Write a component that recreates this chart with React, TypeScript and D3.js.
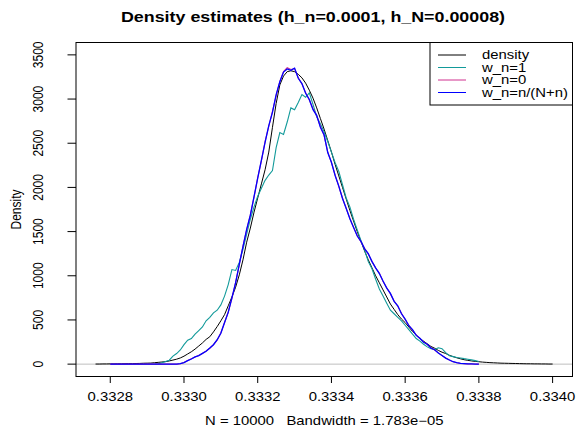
import React from 'react';
import * as d3 from 'd3';

const TITLE = 'Density estimates (h_n=0.0001, h_N=0.00008)';
const X_LABEL = 'N = 10000   Bandwidth = 1.783e\u221205';
const Y_LABEL = 'Density';
const X_TICKS = [0.3328, 0.333, 0.3332, 0.3334, 0.3336, 0.3338, 0.334];
const Y_TICKS = [0, 500, 1000, 1500, 2000, 2500, 3000, 3500];
const SERIES_NAMES = ['density', 'w_n=1', 'w_n=0', 'w_n=n/(N+n)'];
const SERIES_COLORS = ['#000000', '#129a9a', '#d0308f', '#0000ff'];
const SERIES_WIDTHS = [1, 1.1, 1.1, 1.3];

const GRID_STEP = 0.00001;
const X_DOMAIN = [0.332707, 0.334054];
const Y_DOMAIN = [-140, 3640];

const DENSITY_X0 = 0.33276;
const DENSITY_Y = [
  1, 1, 2, 2, 3, 3, 4, 4, 5, 6, 6, 7, 8, 10, 11, 12, 16, 20, 24, 28,
  36, 46, 56, 70, 90, 115, 140, 170, 205, 240, 280, 310, 365, 425, 490, 560, 660, 760, 870, 1010,
  1180, 1380, 1540, 1720, 1880, 2040, 2200, 2400, 2680, 2950, 3160, 3260, 3310, 3320, 3310, 3280, 3240, 3180, 3100, 3010,
  2900, 2780, 2660, 2530, 2400, 2260, 2130, 2000, 1870, 1740, 1620, 1500, 1390, 1280, 1180, 1090, 1000, 920, 840, 760,
  680, 620, 560, 510, 470, 420, 370, 330, 290, 260, 230, 200, 180, 155, 135, 120, 100, 85, 72, 60,
  50, 43, 36, 31, 27, 23, 20, 17, 15, 13, 11, 10, 9, 8, 7, 6, 5, 4, 4, 3,
  3, 2, 2, 1, 1,
];

const WN1_X0 = 0.33292;
const WN1_Y = [
  0, 5, 15, 30, 45, 90, 120, 160, 220, 270, 290, 340, 380, 420, 490, 530, 580, 610, 670, 770,
  900, 1070, 1060, 1150, 1300, 1470, 1640, 1780, 1900, 1990, 2080, 2140, 2190, 2450, 2620, 2600, 2740, 2900, 2880, 2960,
  3050, 3020, 3070, 2940, 2800, 2720, 2630, 2520, 2400, 2280, 2180, 2030, 1880, 1780, 1640, 1520, 1400, 1290, 1160, 1080,
  960, 850, 770, 690, 610, 570, 530, 490, 440, 390, 340, 290, 260, 225, 195, 175, 165, 185, 175, 130,
  95, 85, 75, 70, 62, 55, 48, 40, 30,
];

const WN0_X0 = 0.3328;
const WN0_Y = [
  0, 0, 0, 0, 0, 0, 0, 0, 0, 0, 0, 0, 0, 0, 0, 0, 0, 0, 0, 5,
  18, 40, 62, 80, 98, 120, 148, 180, 222, 272, 355, 468, 590, 745, 925, 1125, 1335, 1520, 1690, 1890,
  2110, 2300, 2520, 2690, 2860, 3040, 3200, 3310, 3355, 3335, 3345, 3240, 3170, 3070, 2990, 2890, 2810, 2690, 2590, 2400,
  2280, 2140, 2010, 1880, 1760, 1650, 1545, 1455, 1385, 1310, 1245, 1165, 1085, 1030, 935, 865, 795, 715, 655, 575,
  505, 440, 385, 330, 288, 252, 222, 186, 160, 128, 96, 70, 46, 28, 16, 10, 6, 3, 2, 1,
  0,
];

const WNN_X0 = 0.3328;
const WNN_Y = [
  0, 0, 0, 0, 0, 0, 0, 0, 0, 0, 0, 0, 0, 0, 0, 0, 0, 0, 0, 5,
  18, 40, 58, 82, 96, 122, 146, 182, 220, 276, 350, 472, 586, 750, 920, 1130, 1330, 1525, 1685, 1895,
  2105, 2310, 2510, 2700, 2850, 3050, 3195, 3305, 3340, 3325, 3350, 3235, 3175, 3065, 2995, 2880, 2815, 2680, 2595, 2395,
  2285, 2135, 2015, 1875, 1765, 1645, 1550, 1450, 1390, 1305, 1250, 1160, 1090, 1025, 940, 860, 800, 710, 660, 570,
  510, 435, 390, 325, 292, 248, 225, 182, 163, 125, 98, 68, 47, 27, 17, 9, 6, 3, 2, 1,
  0,
];

const SERIES = [
  { x0: DENSITY_X0, ys: DENSITY_Y },
  { x0: WN1_X0, ys: WN1_Y },
  { x0: WN0_X0, ys: WN0_Y },
  { x0: WNN_X0, ys: WNN_Y },
];

const W = 576;
const H = 427;
const PL = 76;
const PR = 572.5;
const PT = 42.5;
const PB = 376.5;
const FONT = "'Liberation Sans', Arial, Helvetica, sans-serif";
const SX = 1.24;

function T(props: {
  x: number; y: number; size: number; anchor?: string; bold?: boolean; rotate?: boolean; children: any;
}) {
  const { x, y, size, anchor = 'middle', bold = false, rotate = false, children } = props;
  const tr = rotate
    ? `translate(${x},${y}) scale(${SX},1) rotate(-90)`
    : `translate(${x},${y}) scale(${SX},1)`;
  return (
    <text
      transform={tr}
      fontSize={size}
      fontFamily={FONT}
      fontWeight={bold ? 'bold' : 'normal'}
      textAnchor={anchor as any}
      fill="#000"
      style={{ whiteSpace: 'pre' }}
    >
      {children}
    </text>
  );
}

export default function App() {
  const x = d3.scaleLinear().domain(X_DOMAIN).range([PL, PR]);
  const y = d3.scaleLinear().domain(Y_DOMAIN).range([PB, PT]);
  const line = d3
    .line<number[]>()
    .x((d) => x(d[0]))
    .y((d) => y(d[1]));

  const paths = SERIES.map((s) => line(s.ys.map((v, i) => [s.x0 + i * GRID_STEP, v])) || '');
  const fmt = d3.format('.4f');

  const legL = 430;
  const legT = PT;
  const legB = 105;
  const rowH = (legB - legT) / 5;

  return (
    <svg
      width={W}
      height={H}
      style={{ position: 'absolute', left: 0, top: 0, background: '#fff' }}
    >
      <rect x={0} y={0} width={W} height={H} fill="#fff" />
      <T x={313} y={22} size={14.4} bold>
        {TITLE}
      </T>
      <line x1={PL} x2={PR} y1={y(0)} y2={y(0)} stroke="#bebebe" strokeWidth={1} />
      {paths.map((p, i) => (
        <path key={i} d={p} fill="none" stroke={SERIES_COLORS[i]} strokeWidth={SERIES_WIDTHS[i]} />
      ))}
      <rect x={PL} y={PT} width={PR - PL} height={PB - PT} fill="none" stroke="#000" strokeWidth={1} />
      {Y_TICKS.map((t) => (
        <g key={t}>
          <line x1={PL - 8.5} x2={PL} y1={y(t)} y2={y(t)} stroke="#000" />
          <T x={43} y={y(t)} size={12} rotate>
            {String(t)}
          </T>
        </g>
      ))}
      {X_TICKS.map((t) => (
        <g key={t}>
          <line x1={x(t)} x2={x(t)} y1={PB} y2={PB + 6.5} stroke="#000" />
          <T x={x(t)} y={401} size={12}>
            {fmt(t)}
          </T>
        </g>
      ))}
      <T x={(PL + PR) / 2} y={425} size={12}>
        {X_LABEL}
      </T>
      <T x={21} y={(PT + PB) / 2} size={12} rotate>
        {Y_LABEL}
      </T>
      <rect x={legL} y={legT} width={PR - legL} height={legB - legT} fill="#fff" stroke="#000" strokeWidth={1} />
      {SERIES_NAMES.map((n, i) => {
        const ry = legT + rowH * (i + 1);
        return (
          <g key={n}>
            <line x1={438} x2={466} y1={ry} y2={ry} stroke={SERIES_COLORS[i]} strokeWidth={1} />
            <T x={482} y={ry + 4.3} size={12} anchor="start">
              {n}
            </T>
          </g>
        );
      })}
    </svg>
  );
}
